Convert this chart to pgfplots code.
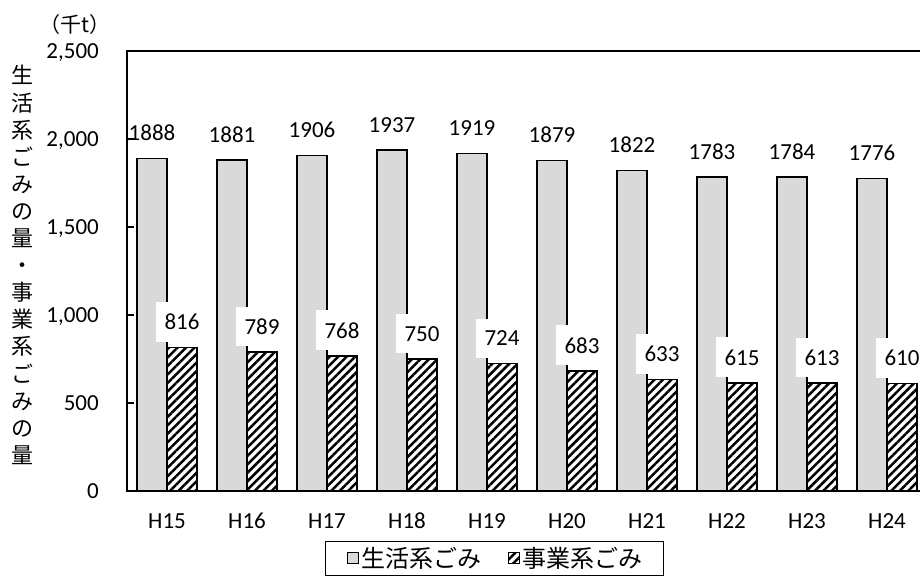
\documentclass[border=0pt]{standalone}
\usepackage{fontspec}
\setmainfont{Carlito}
\newfontfamily\cjk{Noto Sans CJK JP}
\usepackage{pgfplots}
\pgfplotsset{compat=1.18}
\usetikzlibrary{patterns.meta}
\definecolor{barGray}{RGB}{217,217,217}

\begin{document}
\begin{tikzpicture}[x=1pt,y=1pt]
\useasboundingbox (0,0) rectangle (920,576);
\begin{axis}[
    at={(127pt,85pt)}, anchor=south west,
    scale only axis, width=800pt, height=440pt,
    ybar=0pt, bar width=30pt,
    xmin=-0.5, xmax=9.5, ymin=0, ymax=2500,
    ytick={0,500,1000,1500,2000,2500},
    xtick={0,...,9},
    xticklabels={H15,H16,H17,H18,H19,H20,H21,H22,H23,H24},
    axis line style={line width=2pt},
    tick align=inside, ytick pos=left, major tick length=7pt,
    ytick style={line width=1.5pt, black},
    xtick style={draw=none},
    /pgf/number format/assume math mode=true,
    tick label style={font=\fontsize{23}{27}\selectfont},
    yticklabel style={inner sep=0pt, text depth=0pt, xshift=-28pt},
    xticklabel style={inner sep=0pt, text depth=0pt, yshift=-22pt},
    nodes near coords={\pgfmathprintnumber[1000 sep={}]{\pgfplotspointmeta}},
    every node near coord/.append style={font=\fontsize{23}{27}\selectfont,
        inner xsep=9pt, inner ysep=12pt, text depth=0pt, yshift=5pt},
    legend columns=2,
    legend image code/.code={\draw[#1, line width=1pt] (0pt,-5.5pt) rectangle (11pt,5.5pt);},
    legend style={at={(0.4594,-0.1136)}, anchor=north, draw=black, line width=1.2pt,
        font=\cjk\fontsize{24}{28}\selectfont,
        inner xsep=21pt, inner ysep=6pt, nodes={inner sep=0pt},
        /tikz/every odd column/.append style={column sep=3pt},
        /tikz/every even column/.append style={column sep=26pt}},
]
% 生活系ごみ
\addplot[draw=black, line width=1.5pt, fill=barGray] coordinates {
(0,1888) (1,1881) (2,1906) (3,1937) (4,1919)
(5,1879) (6,1822) (7,1783) (8,1784) (9,1776)
};
\addlegendentry{生活系ごみ}
% 事業系ごみ
\addplot[draw=black, line width=1.5pt, fill=white,
    pattern={Lines[angle=45, distance=6pt, line width=2.5pt]}, pattern color=black,
    every node near coord/.append style={fill=white}] coordinates {
(0,816) (1,789) (2,768) (3,750) (4,724)
(5,683) (6,633) (7,615) (8,613) (9,610)
};
\addlegendentry{事業系ごみ}
\end{axis}
\node[font=\cjk\fontsize{21}{25}\selectfont] at (75,551) {（千t）};
\node[font=\cjk\fontsize{22}{27.1}\selectfont, align=center, inner sep=0pt] at (22,311)
  {生\\活\\系\\ご\\み\\の\\量\\・\\事\\業\\系\\ご\\み\\の\\量};
\end{tikzpicture}
\end{document}
